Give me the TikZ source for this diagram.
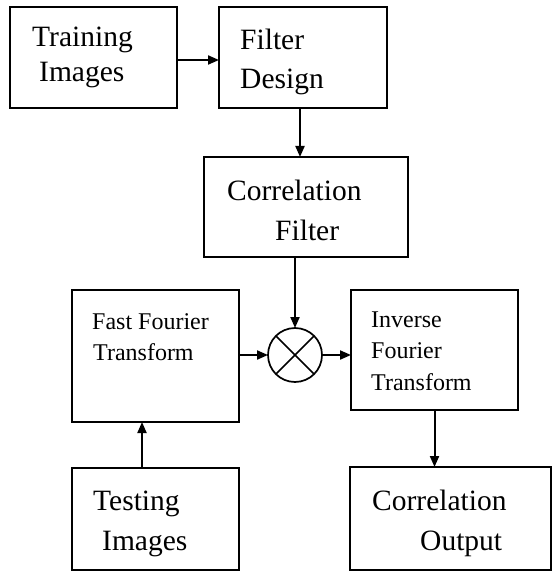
\documentclass[tikz,border=0pt]{standalone}
\usepackage{fontspec}
\setmainfont{Liberation Serif}
\usetikzlibrary{arrows.meta}

\begin{document}
\begin{tikzpicture}[x=1pt,y=-1pt,
	blk/.style={draw,line width=1.3pt,rectangle,inner sep=0pt,outer sep=0pt},
	big/.style={anchor=base west,inner sep=0pt,font=\fontsize{29.5}{35}\selectfont},
	small/.style={anchor=base west,inner sep=0pt,font=\fontsize{24}{30}\selectfont},
	flow/.style={line width=2pt,-{Triangle[length=11pt,width=9pt]}}]
	\useasboundingbox (0,0) rectangle (551,572);
	% blocks
	\node[blk,minimum width=167pt,minimum height=101pt] (tr) at (93.5,57.5) {};
	\node[blk,minimum width=168pt,minimum height=101pt] (fd) at (303,57.5) {};
	\node[blk,minimum width=204pt,minimum height=100pt] (cf) at (306,207) {};
	\node[blk,minimum width=167pt,minimum height=132pt] (fft) at (155.5,356) {};
	\node[blk,minimum width=167pt,minimum height=120pt] (ift) at (434.5,350) {};
	\node[blk,minimum width=167pt,minimum height=102pt] (test) at (155.5,519) {};
	\node[blk,minimum width=201pt,minimum height=103pt] (out) at (450.5,518.5) {};
	\node[draw,circle,line width=1.7pt,minimum size=54pt,inner sep=0pt,outer sep=0pt] (mult) at (295,355) {};
	\draw[line width=1.5pt] (mult.north west) -- (mult.south east);
	\draw[line width=1.5pt] (mult.north east) -- (mult.south west);
	% labels
	\node[big] (tr1) at (32,47) {Training};
	\node[big] (tr2) at (39,82) {Images};
	\node[big] (fd1) at (240,50) {Filter};
	\node[big] (fd2) at (240,89) {Design};
	\node[big] (cf1) at (227,200) {Correlation};
	\node[big] (cf2) at (275,240) {Filter};
	\node[small] (fft1) at (92,329) {Fast Fourier};
	\node[small] (fft2) at (93,360) {Transform};
	\node[small] (ift1) at (371,327) {Inverse};
	\node[small] (ift2) at (371,358) {Fourier};
	\node[small] (ift3) at (371,390) {Transform};
	\node[big] (test1) at (93,510) {Testing};
	\node[big] (test2) at (102,550) {Images};
	\node[big] (out1) at (372,510) {Correlation};
	\node[big] (out2) at (420,550) {Output};
	% connectors
	\draw[flow] ([yshift=-2.5pt]tr.east) -- ([yshift=-2.5pt]tr.east -| fd.west);
	\draw[flow] ([xshift=-3pt]fd.south) -- ([xshift=-3pt]fd.south |- cf.north);
	\draw[flow] (mult.north |- cf.south) -- (mult.north);
	\draw[flow] (fft.east |- mult.west) -- (mult.west);
	\draw[flow] (mult.east) -- (mult.east -| ift.west);
	\draw[flow] ([xshift=-13.5pt]test.north) -- ([xshift=-13.5pt]fft.south);
	\draw[flow] (ift.south) -- (ift.south |- out.north);
\end{tikzpicture}
\end{document}
